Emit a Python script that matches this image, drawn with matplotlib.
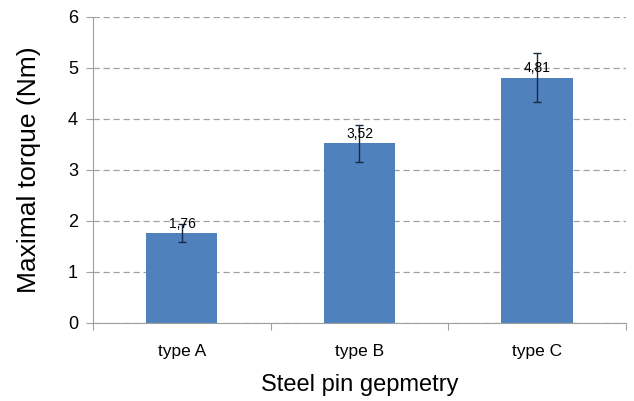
import matplotlib
matplotlib.use('Agg')
import matplotlib.pyplot as plt

categories = ['type A', 'type B', 'type C']
torque = [1.76, 3.52, 4.81]
errors = [0.18, 0.36, 0.48]

plt.rcParams['font.family'] = ['Liberation Sans', 'DejaVu Sans']

fig = plt.figure(figsize=(6.34, 4.01), dpi=100)
ax = fig.add_axes([0.147, 0.195, 0.840, 0.763])

x = range(len(categories))
ax.bar(x, torque, width=0.4, color='#4F81BD', zorder=2)
ax.errorbar(x, torque, yerr=errors, fmt='none', ecolor='#1a2a40',
            elinewidth=1, capsize=3, capthick=1, zorder=3)
for xi, v in zip(x, torque):
    ax.text(xi, v + 0.05, f"{v:.2f}".replace('.', ','), ha='center',
            va='bottom', fontsize=10, zorder=4)

ax.set_xlim(-0.5, 2.5)
ax.set_ylim(0, 6)
ax.set_yticks(range(7))
ax.yaxis.grid(True, linestyle=(0, (5, 3)), color='#a0a0a0', linewidth=0.9, zorder=0)

ax.set_xticks([-0.5, 0.5, 1.5, 2.5])
ax.set_xticklabels([])
ax.set_xticks(list(x), minor=True)
ax.set_xticklabels(categories, minor=True, fontsize=12.5)
ax.tick_params(axis='x', which='minor', length=0, pad=15)
ax.tick_params(axis='x', which='major', length=5, color='#a0a0a0')
ax.tick_params(axis='y', length=5, color='#a0a0a0', labelsize=13, pad=6)

for s in ['top', 'right']:
    ax.spines[s].set_visible(False)
for s in ['left', 'bottom']:
    ax.spines[s].set_color('#a0a0a0')

ax.set_ylabel('Maximal torque (Nm)', fontsize=19, labelpad=19)
ax.set_xlabel('Steel pin gepmetry', fontsize=17, labelpad=11)

fig.savefig('out.png', dpi=100)
